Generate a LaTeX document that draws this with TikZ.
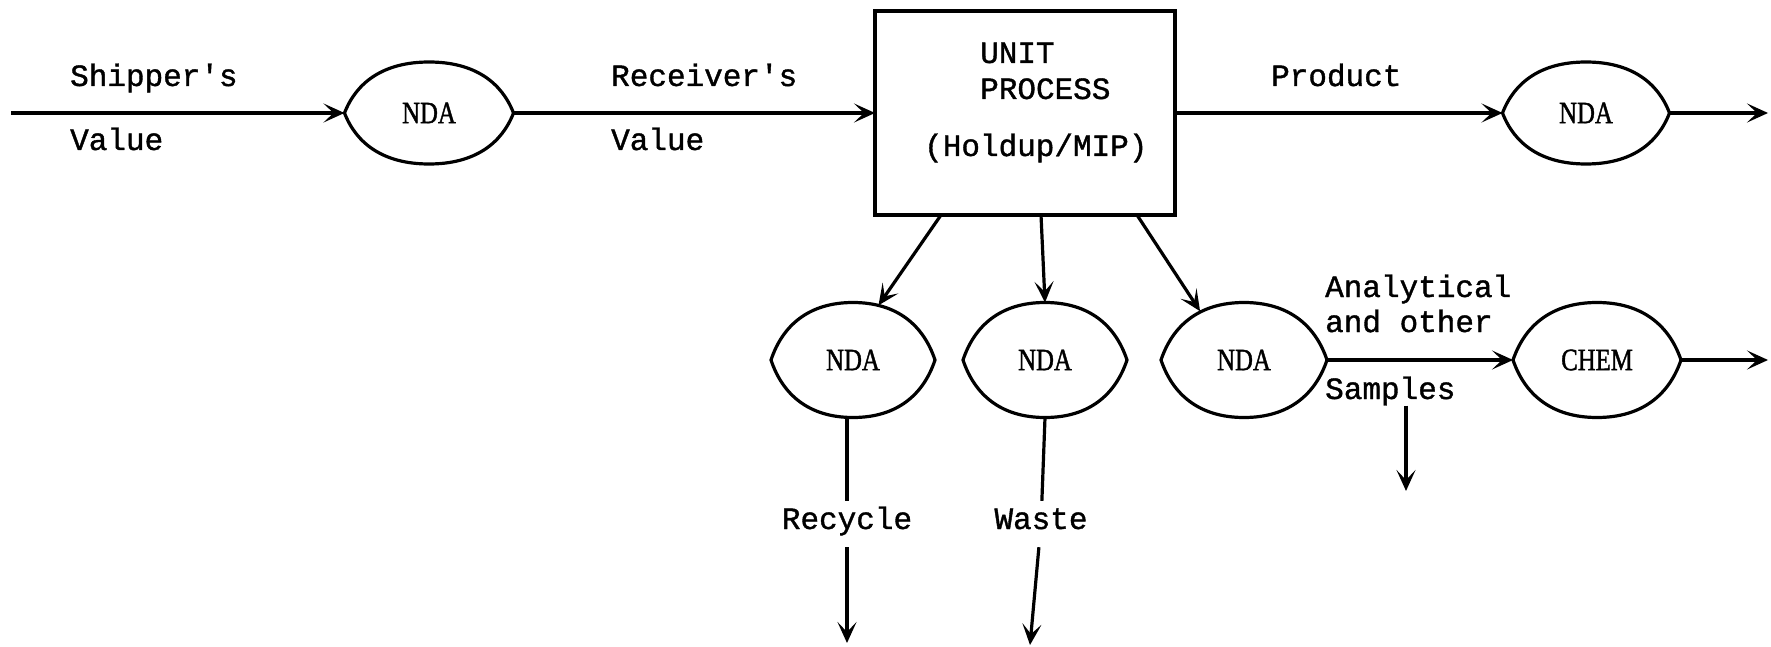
\documentclass[tikz,border=0pt]{standalone}
\usepackage{fontspec}
\usepackage{graphicx}
\newfontfamily\tw{Liberation Mono}[Ligatures=TeXOff, FakeBold=1.2]
\newfontfamily\nd{Liberation Serif}[FakeBold=1.5]
\usetikzlibrary{arrows.meta,calc,shapes.geometric}
\tikzset{
  ln/.style={line width=3.2pt},
  arr/.style={ln,-{Stealth[length=21pt,width=19pt,inset=10pt]}},
  lab/.style={font=\fontsize{31}{36}\selectfont\tw, inner sep=0pt, anchor=base west},
  flowlab/.style={font=\fontsize{31}{36}\selectfont\tw, inner xsep=2pt, inner ysep=10pt, text height=18pt, text depth=8pt},
}
\newcommand\lensnode[6]{%
  \node[ellipse, minimum width=#4pt, minimum height=#5pt, inner sep=0pt, outer sep=0pt,
        font=\fontsize{31}{31}\selectfont\nd] (#1) at (#2,#3) {\scalebox{0.8}[1]{#6}};
  \draw[ln] ($(#1.center)+(-#4/2,0)$)
     .. controls +(0.07*#4,-0.3*#5) and +(-0.27*#4,0) .. ($(#1.center)+(0,-#5/2)$)
     .. controls +(0.27*#4,0) and +(-0.07*#4,-0.3*#5) .. ($(#1.center)+(#4/2,0)$)
     .. controls +(-0.07*#4,0.3*#5) and +(0.27*#4,0) .. ($(#1.center)+(0,#5/2)$)
     .. controls +(-0.27*#4,0) and +(0.07*#4,0.3*#5) .. cycle;
}
\begin{document}
\begin{tikzpicture}[x=1pt,y=-1pt]
\useasboundingbox (0,0) rectangle (1771,647);

% nodes
\node[draw, ln, minimum width=300pt, minimum height=204pt, inner sep=0pt, outer sep=0pt] (box) at (1025,113) {};
\lensnode{n1}{429}{113}{169}{102}{NDA}
\lensnode{n2}{1586}{113}{167}{102}{NDA}
\lensnode{na}{853}{360}{164}{115}{NDA}
\lensnode{nb}{1045}{360}{164}{115}{NDA}
\lensnode{nc}{1244}{360}{166}{115}{NDA}
\lensnode{ch}{1597}{360}{168}{115}{CHEM}

% labels
\node[lab] (ship) at (70,86) {Shipper's};
\node[lab] (v1) at (70,150) {Value};
\node[lab] (recv) at (611,86) {Receiver's};
\node[lab] (v2) at (611,150) {Value};
\node[lab] (prod) at (1271,86) {Product};
\node[lab] (unit) at (980,63) {UNIT};
\node[lab] (proc) at (980,99) {PROCESS};
\node[lab] (hold) at (924,156) {(Holdup/MIP)};
\node[lab] (anal) at (1325,297) {Analytical};
\node[lab] (other) at (1325,332) {and other};
\node[lab] (samp) at (1325,399) {Samples};
\node[flowlab] (rec) at (847,524) {Recycle};
\node[flowlab] (was) at (1041,524) {Waste};

% free ends
\coordinate (in) at (11,113);
\coordinate (out1) at (1768,113);
\coordinate (out2) at (1768,360);
\coordinate (recend) at (847,643);
\coordinate (wasend) at (1030,645);
\coordinate (sampend) at (1406,491);

% connectors
\draw[arr] (in) -- (n1.west);
\draw[arr] (n1.east) -- (box.west);
\draw[arr] (box.east) -- (n2.west);
\draw[arr] (n2.east) -- (out1);
\draw[arr] ($(box.south west)+(66,0)$) -- (na.65);
\draw[arr] ($(box.south west)+(166,0)$) -- (nb.north);
\draw[arr] ($(box.south west)+(262,0)$) -- (nc.132);
\draw[arr] (nc.east) -- (ch.west);
\draw[arr] (ch.east) -- (out2);
\draw[arr] (samp.south -| sampend) -- (sampend);
\draw[ln] (na.south -| rec) -- (rec);
\draw[arr] (rec) -- (recend);
\draw[ln] (nb.south) -- (was);
\draw[arr] (was) -- (wasend);
\end{tikzpicture}
\end{document}
